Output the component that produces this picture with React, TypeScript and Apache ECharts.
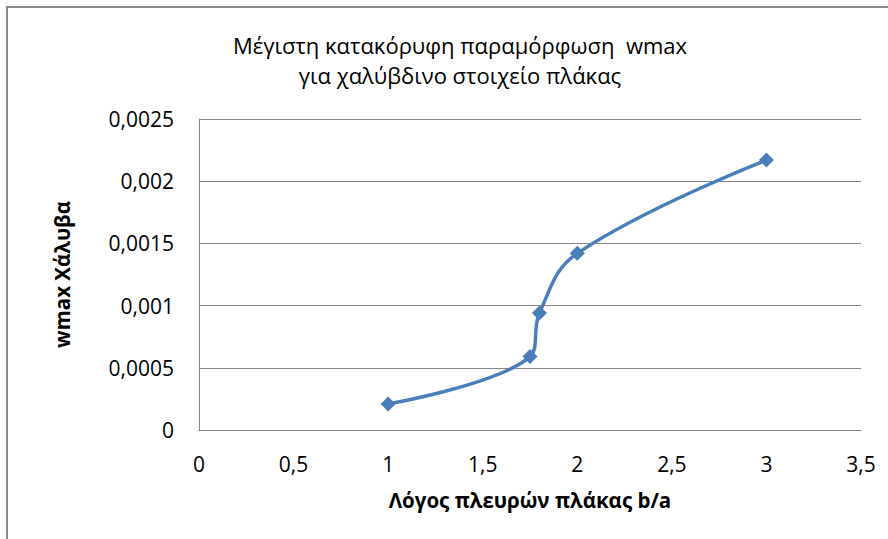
import React, { useEffect, useRef } from "react";
import * as echarts from "echarts";

const titleLines = ["Μέγιστη κατακόρυφη παραμόρφωση  wmax", "για χαλύβδινο στοιχείο πλάκας"];
const xName = "Λόγος πλευρών πλάκας b/a";
const yName = "wmax Χάλυβα";
const xValues = [1, 1.75, 1.8, 2, 3];
const yValues = [0.00021, 0.00059, 0.00094, 0.00142, 0.00217];

const FONT = "'Open Sans', 'Noto Sans', sans-serif";
const fmt = (v: number) => String(+v.toPrecision(6)).replace(".", ",");

export default function App() {
  const ref = useRef<HTMLDivElement>(null);
  useEffect(() => {
    const chart = echarts.init(ref.current!, null, { renderer: "svg" });
    chart.setOption({
      animation: false,
      backgroundColor: "#ffffff",
      title: {
        text: titleLines.join("\n"),
        left: 455,
        textAlign: "center",
        top: 25,
        textStyle: { fontFamily: FONT, fontSize: 22, fontWeight: "normal", color: "#000", lineHeight: 30 },
      },
      graphic: [
        {
          type: "rect",
          shape: { x: 7, y: 7, width: 900, height: 560 },
          style: { fill: "none", stroke: "#8a8a8a", lineWidth: 2 },
          silent: true,
        },
      ],
      grid: { left: 199, right: 27, top: 119, bottom: 109, containLabel: false },
      xAxis: {
        type: "value",
        min: 0,
        max: 3.5,
        interval: 0.5,
        name: xName,
        nameLocation: "middle",
        nameGap: 59,
        nameTextStyle: { fontFamily: FONT, fontSize: 20.5, fontWeight: "bold", color: "#000" },
        axisLine: { show: true, lineStyle: { color: "#868686", width: 1 } },
        axisTick: { show: false },
        splitLine: { show: false },
        axisLabel: { formatter: fmt, margin: 23, fontFamily: FONT, fontSize: 21, color: "#000" },
      },
      yAxis: {
        type: "value",
        min: 0,
        max: 0.0025,
        interval: 0.0005,
        name: yName,
        nameLocation: "middle",
        nameGap: 127,
        nameRotate: 90,
        nameTextStyle: { fontFamily: FONT, fontSize: 20.5, fontWeight: "bold", color: "#000" },
        axisLine: { show: true, lineStyle: { color: "#868686", width: 1 } },
        axisTick: { show: false },
        splitLine: { show: true, lineStyle: { color: "#868686", width: 1 } },
        axisLabel: { formatter: fmt, margin: 25, fontFamily: FONT, fontSize: 21, color: "#000" },
      },
      series: [
        {
          type: "line",
          data: xValues.map((x, i) => [x, yValues[i]]),
          smooth: 0.4,
          symbol: "diamond",
          symbolSize: 15,
          lineStyle: { color: "#4a7ebb", width: 3.5 },
          itemStyle: { color: "#4a7ebb" },
        },
      ],
    });
    return () => chart.dispose();
  }, []);
  return <div ref={ref} style={{ position: "fixed", left: 0, top: 0, width: 888, height: 539 }} />;
}
